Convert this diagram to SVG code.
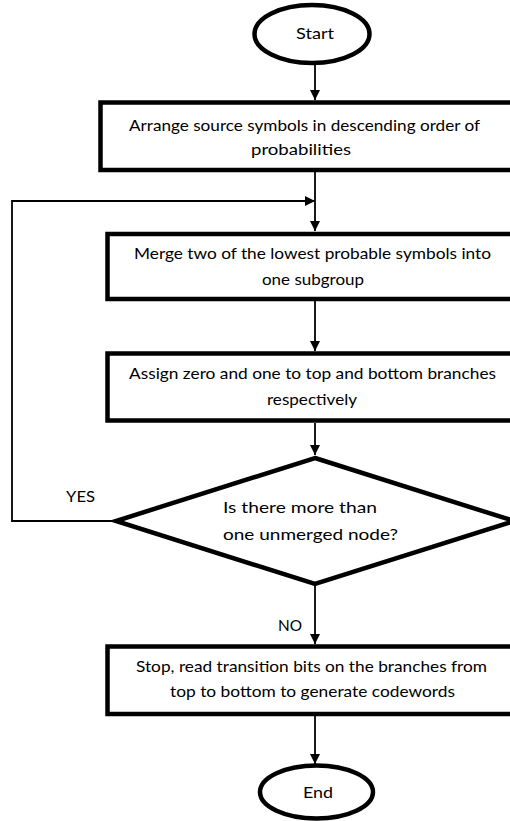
<svg xmlns="http://www.w3.org/2000/svg" width="510" height="821" viewBox="0 0 510 821">
<defs>
<marker id="arr" markerUnits="userSpaceOnUse" markerWidth="10" markerHeight="10" refX="10" refY="5" orient="auto">
<path d="M0,0 L10,5 L0,10 z" fill="#000"/>
</marker>
<style>
.shape{fill:#fff;stroke:#000;stroke-width:4.5}
.conn{fill:none;stroke:#000;stroke-width:1.8}
.t{font-family:Lato,"Liberation Sans",sans-serif;font-size:16px;fill:#000}
.c{text-anchor:middle}
</style>
</defs>
<rect width="510" height="821" fill="#fff"/>
<g id="connectors">
<line class="conn" x1="315" y1="64" x2="315" y2="100" marker-end="url(#arr)"/>
<line class="conn" x1="315" y1="172" x2="315" y2="231" marker-end="url(#arr)"/>
<polyline class="conn" points="116,521 12,521 12,201 315,201" marker-end="url(#arr)"/>
<line class="conn" x1="315" y1="301" x2="315" y2="351" marker-end="url(#arr)"/>
<line class="conn" x1="315" y1="423" x2="315" y2="455" marker-end="url(#arr)"/>
<line class="conn" x1="315" y1="586" x2="315" y2="644" marker-end="url(#arr)"/>
<line class="conn" x1="315" y1="716" x2="315" y2="764" marker-end="url(#arr)"/>
<text class="t" x="66" y="502" textLength="29" lengthAdjust="spacingAndGlyphs">YES</text>
<text class="t" x="278" y="631" textLength="24" lengthAdjust="spacingAndGlyphs">NO</text>
</g>
<g id="start">
<ellipse class="shape" cx="312" cy="34" rx="57.5" ry="29"/>
<text class="t c" x="315" y="39" textLength="38" lengthAdjust="spacingAndGlyphs">Start</text>
</g>
<g id="arrange">
<rect class="shape" x="100.5" y="102.5" width="420" height="67.5"/>
<text class="t c" x="304.5" y="131" textLength="351" lengthAdjust="spacingAndGlyphs">Arrange source symbols in descending order of</text>
<text class="t c" x="301" y="155" textLength="100" lengthAdjust="spacingAndGlyphs">probabilities</text>
</g>
<g id="merge">
<rect class="shape" x="107.5" y="234" width="415" height="65"/>
<text class="t c" x="312.5" y="259" textLength="357" lengthAdjust="spacingAndGlyphs">Merge two of the lowest probable symbols into</text>
<text class="t c" x="313" y="285" textLength="102" lengthAdjust="spacingAndGlyphs">one subgroup</text>
</g>
<g id="assign">
<rect class="shape" x="107.5" y="353.5" width="415" height="67"/>
<text class="t c" x="312.5" y="379" textLength="367" lengthAdjust="spacingAndGlyphs">Assign zero and one to top and bottom branches</text>
<text class="t c" x="312" y="405" textLength="90" lengthAdjust="spacingAndGlyphs">respectively</text>
</g>
<g id="decision">
<polygon class="shape" points="315,458 514,521 315,584 116,521"/>
<text class="t" x="223" y="513" textLength="154" lengthAdjust="spacingAndGlyphs">Is there more than</text>
<text class="t" x="223" y="540" textLength="175" lengthAdjust="spacingAndGlyphs">one unmerged node?</text>
</g>
<g id="stop">
<rect class="shape" x="107.5" y="646.5" width="415" height="67.5"/>
<text class="t c" x="311.5" y="672" textLength="351" lengthAdjust="spacingAndGlyphs">Stop, read transition bits on the branches from</text>
<text class="t c" x="312.5" y="697" textLength="285" lengthAdjust="spacingAndGlyphs">top to bottom to generate codewords</text>
</g>
<g id="end">
<ellipse class="shape" cx="316.5" cy="792" rx="56.5" ry="26.5"/>
<text class="t c" x="318" y="798" textLength="30" lengthAdjust="spacingAndGlyphs">End</text>
</g>
</svg>
